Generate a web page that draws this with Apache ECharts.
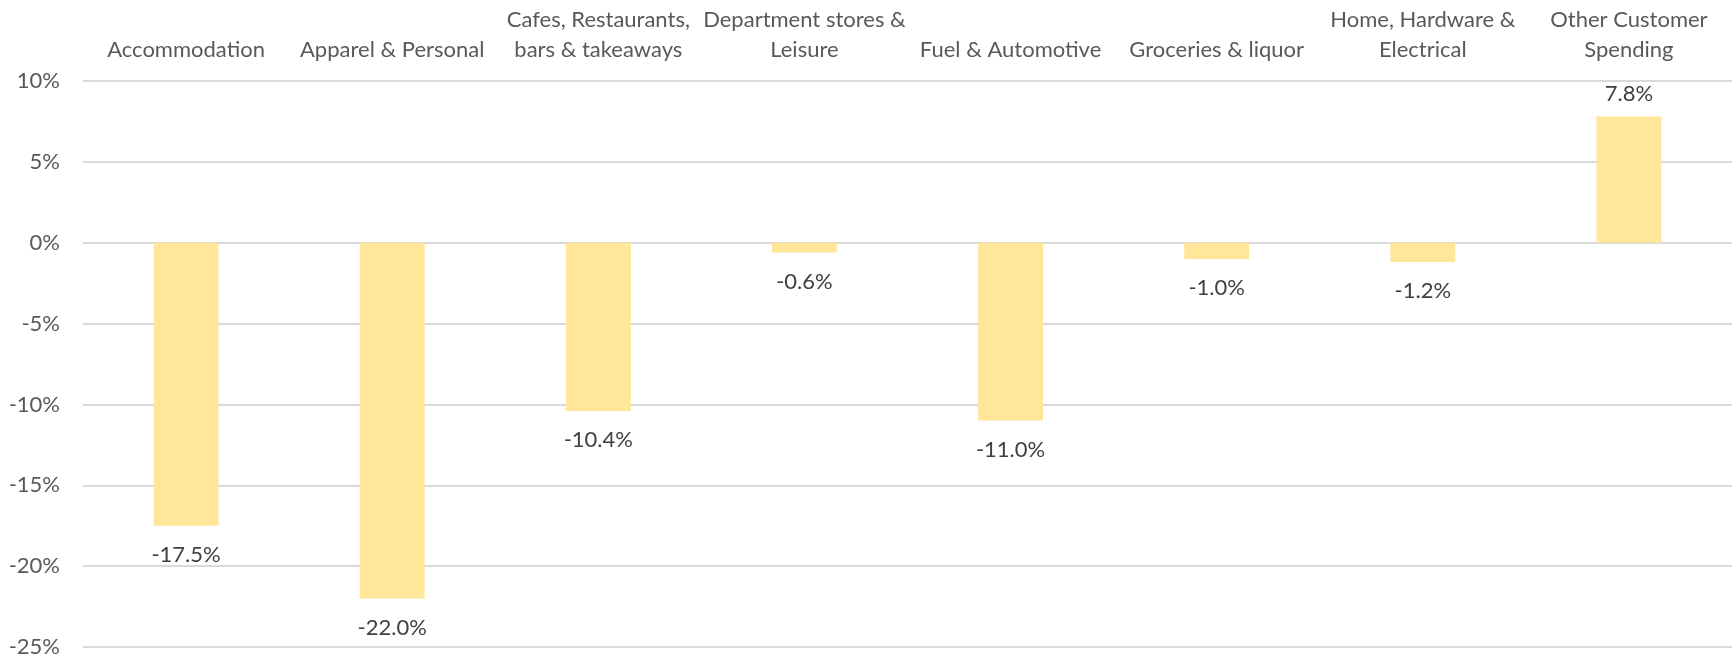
<!DOCTYPE html>
<html>
<head>
<meta charset="utf-8">
<script src="https://cdn.jsdelivr.net/npm/echarts@6/dist/echarts.min.js"></script>
<style>
  html, body { margin: 0; padding: 0; background: #fff; }
  #spendChart { width: 1732px; height: 658px; }
</style>
</head>
<body>
<div id="spendChart"></div>
<script>
var categoryNames = [
    'Accommodation',
    'Apparel & Personal',
    'Cafes, Restaurants,\nbars & takeaways',
    'Department stores &\nLeisure',
    'Fuel & Automotive',
    'Groceries & liquor',
    'Home, Hardware &\nElectrical',
    'Other Customer\nSpending'
];
var changeValues = [-17.5, -22.0, -10.4, -0.6, -11.0, -1.0, -1.2, 7.8];
var axisMin = -25;
var axisMax = 10;
var axisStep = 5;

var myChart = echarts.init(document.getElementById('spendChart'));

var option = {
    backgroundColor: '#ffffff',
    animation: false,
    textStyle: {
        fontFamily: 'Lato'
    },
    grid: {
        left: 83,
        right: 0,
        top: 81,
        bottom: 9,
        containLabel: false
    },
    xAxis: {
        type: 'category',
        position: 'top',
        data: categoryNames,
        axisLine: { show: false },
        axisTick: { show: false },
        axisLabel: {
            interval: 0,
            color: '#595959',
            fontSize: 22,
            lineHeight: 30,
            margin: 16,
            align: 'center'
        }
    },
    yAxis: {
        type: 'value',
        min: axisMin,
        max: axisMax,
        interval: axisStep,
        axisLine: { show: false },
        axisTick: { show: false },
        axisLabel: {
            color: '#595959',
            fontSize: 22,
            margin: 23,
            formatter: function (v) {
                return v + '%';
            }
        },
        splitLine: {
            lineStyle: { color: '#d9d9d9', width: 2 }
        }
    },
    series: [{
        type: 'bar',
        data: changeValues,
        barWidth: '31.5%',
        itemStyle: {
            color: '#ffe699'
        },
        label: {
            show: true,
            position: 'outside',
            distance: 15,
            offset: [0, 3],
            color: '#404040',
            fontSize: 22,
            formatter: function (p) {
                return p.value.toFixed(1) + '%';
            }
        }
    }]
};

myChart.setOption(option);
</script>
</body>
</html>
